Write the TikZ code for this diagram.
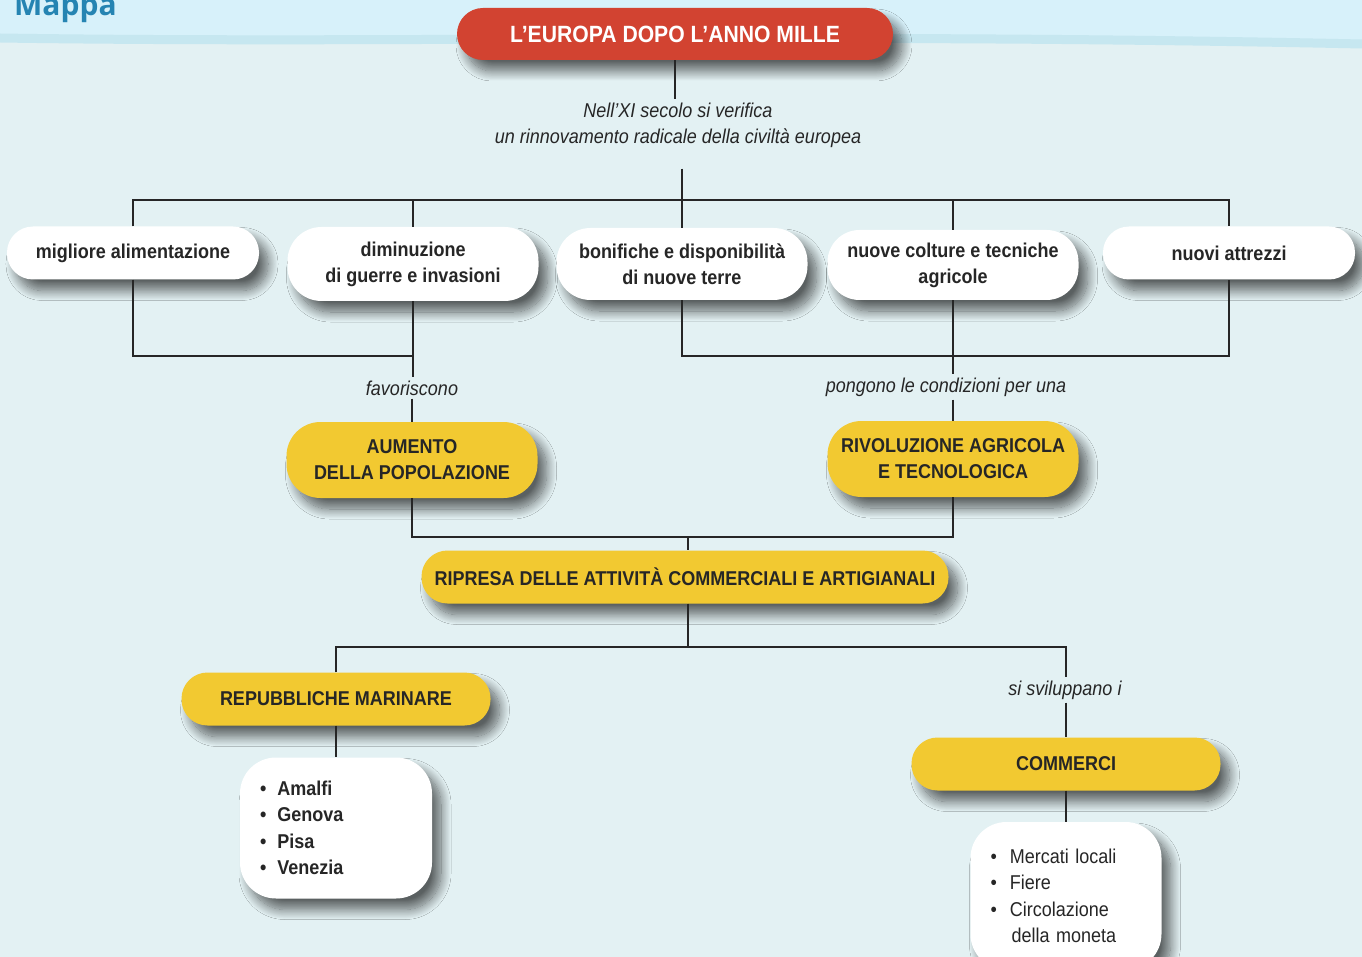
\documentclass[tikz,border=0pt]{standalone}
\usepackage{fontspec}
\setmainfont{Liberation Sans}[FakeStretch=0.9]
\newfontfamily\mappafont{Open Sans}
\usetikzlibrary{positioning,shadows.blur}

\definecolor{bodybg}{HTML}{E3F1F3}
\definecolor{headbg}{HTML}{D7F1FA}
\definecolor{wavecol}{HTML}{C6E7F0}
\definecolor{mappablue}{HTML}{2584B2}
\definecolor{titlered}{HTML}{D24331}
\definecolor{boxyellow}{HTML}{F2C931}
\definecolor{inkcol}{HTML}{262626}

\tikzset{
  conn/.style={draw=inkcol, line width=2.6pt},
  pill/.style={rounded corners=26pt, align=center, text=inkcol,
    font=\bfseries\fontsize{20}{26}\selectfont,
    blur shadow={shadow xshift=9pt, shadow yshift=-11pt, shadow blur steps=16,
      shadow blur radius=10pt, shadow opacity=60}},
  whitebox/.style={pill, fill=white},
  yellowbox/.style={pill, fill=boxyellow},
  listbox/.style={whitebox, rounded corners=36pt, align=left,
    inner xsep=20pt, font=\fontsize{20}{26.5}\selectfont},
  linktext/.style={font=\itshape\fontsize{20}{26}\selectfont, text=inkcol,
    align=center, inner sep=3pt},
}

\begin{document}
\begin{tikzpicture}[x=1pt, y=-1pt]

  % page and header
  \useasboundingbox (0,0) rectangle (1362,957);
  \clip (0,0) rectangle (1362,957);
  \fill[bodybg] (0,0) rectangle (1362,957);
  \fill[headbg] (0,0) -- (0,38) .. controls (400,44) and (800,32) .. (1362,44) -- (1362,0) -- cycle;
  \draw[wavecol, line width=9pt] (0,38) .. controls (400,44) and (800,32) .. (1362,44);
  \node[anchor=base west, inner sep=0pt, text=mappablue,
    font=\mappafont\bfseries\fontsize{30}{30}\selectfont] (mappa) at (14,16) {Mappa};

  % title
  \node[pill, fill=titlered, text=white, minimum width=436pt, minimum height=52pt,
    font=\bfseries\fontsize{23.5}{26}\selectfont] (title) at (675,34) {L’EUROPA DOPO L’ANNO MILLE};
  \node[linktext] (tNell) at (678,125) {Nell’XI secolo si verifica\\un rinnovamento radicale della civiltà europea};
  \coordinate (busTop) at (682,200);

  % causes
  \node[whitebox, minimum width=252pt, minimum height=53pt] (cAlim) at (133,253) {migliore alimentazione};
  \node[whitebox, rounded corners=34pt, minimum width=251pt, minimum height=74pt] (cGuerre) at (413,264) {diminuzione\\di guerre e invasioni};
  \node[whitebox, rounded corners=34pt, minimum width=251pt, minimum height=72pt] (cBonif) at (682,264) {bonifiche e disponibilità\\di nuove terre};
  \node[whitebox, rounded corners=32pt, minimum width=251pt, minimum height=70pt] (cColt) at (953,265) {nuove colture e tecniche\\agricole};
  \node[whitebox, minimum width=252pt, minimum height=53pt] (cAttr) at (1229,253) {nuovi attrezzi};
  \coordinate (lowL) at (273,356);
  \coordinate (lowR) at (956,356);

  % consequences
  \node[linktext] (tFav) at (412,388) {favoriscono};
  \node[linktext] (tPong) at (946,387) {pongono le condizioni per una};
  \node[yellowbox, rounded corners=34pt, minimum width=251pt, minimum height=76pt] (aPop) at (412,460) {AUMENTO\\DELLA POPOLAZIONE};
  \node[yellowbox, rounded corners=34pt, minimum width=251pt, minimum height=76pt] (rAgr) at (953,459) {RIVOLUZIONE AGRICOLA\\E TECNOLOGICA};
  \coordinate (ripJoin) at (688,537);
  \node[yellowbox, minimum width=527pt, minimum height=53pt] (ripresa) at (685,577) {RIPRESA DELLE ATTIVITÀ COMMERCIALI E ARTIGIANALI};
  \coordinate (split) at (688,647);

  % bottom branches
  \node[yellowbox, minimum width=309pt, minimum height=53pt] (repMar) at (336,699) {REPUBBLICHE MARINARE};
  \node[linktext] (tSvil) at (1065,690) {si sviluppano i};
  \node[yellowbox, minimum width=309pt, minimum height=53pt] (comm) at (1066,764) {COMMERCI};
  \node[listbox, font=\bfseries\fontsize{20}{26.5}\selectfont, text width=152pt,
    minimum height=141pt] (listRep) at (336,828)
    {•\hspace{11pt}Amalfi\\•\hspace{11pt}Genova\\•\hspace{11pt}Pisa\\•\hspace{11pt}Venezia};
  \node[listbox, text width=151pt, minimum height=148pt] (listComm) at (1066,896)
    {•\hspace{13pt}Mercati locali\\•\hspace{13pt}Fiere\\•\hspace{13pt}Circolazione\\\hspace{21pt}della moneta};

  % connectors
  \draw[conn] (title.south) -- (tNell.north -| title.south);
  \draw[conn, shorten <=18pt] (tNell.south -| busTop) -- (busTop);
  \draw[conn] (cAlim.north) -- (cAlim.north |- busTop) -- (cAttr.north |- busTop) -- (cAttr.north);
  \foreach \c in {cGuerre,cBonif,cColt}
    \draw[conn] (\c.north) -- (\c.north |- busTop);

  \draw[conn] (cAlim.south) -- (cAlim.south |- lowL) -- (cGuerre.south |- lowL);
  \draw[conn] (cGuerre.south) -- (tFav.north -| cGuerre.south);
  \draw[conn] (tFav.south -| aPop.north) -- (aPop.north);
  \draw[conn] (cBonif.south) -- (cBonif.south |- lowR) -- (cAttr.south |- lowR) -- (cAttr.south);
  \draw[conn] (cColt.south) -- (tPong.north -| cColt.south);
  \draw[conn] (tPong.south -| rAgr.north) -- (rAgr.north);

  \draw[conn] (aPop.south) -- (aPop.south |- ripJoin) -- (rAgr.south |- ripJoin) -- (rAgr.south);
  \draw[conn] (ripJoin) -- (ripJoin |- ripresa.north);
  \draw[conn] (split |- ripresa.south) -- (split);
  \draw[conn] (repMar.north) -- (repMar.north |- split) -- (comm.north |- split) -- (comm.north |- tSvil.north);
  \draw[conn] (comm.north |- tSvil.south) -- (comm.north);
  \draw[conn] (repMar.south) -- (listRep.north);
  \draw[conn] (comm.south) -- (listComm.north);

\end{tikzpicture}
\end{document}
